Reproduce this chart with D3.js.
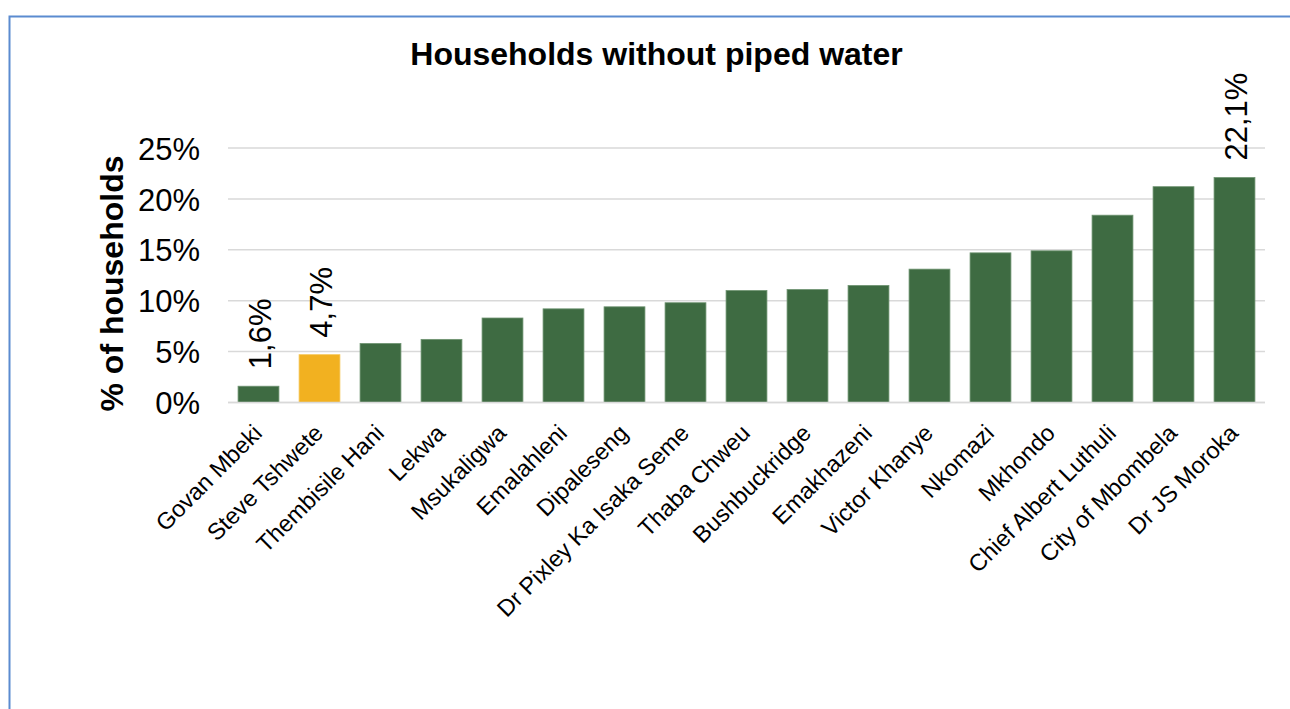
<!DOCTYPE html>
<html>
<head>
<meta charset="utf-8">
<script src="https://cdn.jsdelivr.net/npm/d3@7"></script>
<style>
  html, body { margin: 0; padding: 0; background: #fff; }
  svg { display: block; font-family: "Liberation Sans", Arial, sans-serif; }
</style>
</head>
<body>
<svg id="chart" width="1290" height="709"></svg>
<script>
// Share of households without piped water, by local municipality
const municipalities = [
  "Govan Mbeki", "Steve Tshwete", "Thembisile Hani", "Lekwa", "Msukaligwa",
  "Emalahleni", "Dipaleseng", "Dr Pixley Ka Isaka Seme", "Thaba Chweu",
  "Bushbuckridge", "Emakhazeni", "Victor Khanye", "Nkomazi", "Mkhondo",
  "Chief Albert Luthuli", "City of Mbombela", "Dr JS Moroka"
];
const shareWithoutPipedWater = [
  1.6, 4.7, 5.8, 6.2, 8.3, 9.2, 9.4, 9.8, 11.0, 11.1, 11.5, 13.1, 14.7, 14.9, 18.4, 21.2, 22.1
];
const highlighted = ["Steve Tshwete"];
const labelled = ["Govan Mbeki", "Steve Tshwete", "Dr JS Moroka"];
const yTicks = [0, 5, 10, 15, 20, 25];

const svg = d3.select("#chart");

// Frame around the chart
svg.append("rect")
  .attr("x", 9.5).attr("y", 16.5)
  .attr("width", 1300).attr("height", 720)
  .attr("fill", "none")
  .attr("stroke", "#5b8bd0")
  .attr("stroke-width", 2);

const x = d3.scaleBand()
  .domain(municipalities)
  .range([228, 1265])
  .paddingInner(0.33)
  .paddingOuter(0.165);

const y = d3.scaleLinear()
  .domain([0, 25])
  .range([402.5, 148]);

// Horizontal gridlines
svg.append("g")
  .selectAll("line")
  .data(yTicks)
  .join("line")
  .attr("x1", 228).attr("x2", 1265)
  .attr("y1", d => y(d)).attr("y2", d => y(d))
  .attr("stroke", "#d9d9d9")
  .attr("stroke-width", 1.5);

// Y axis labels
const yAxis = d3.axisLeft(y)
  .tickValues(yTicks)
  .tickFormat(d => d + "%")
  .tickSize(0)
  .tickPadding(0);
const yg = svg.append("g")
  .attr("transform", "translate(200,0)")
  .call(yAxis);
yg.select(".domain").remove();
yg.selectAll("text")
  .attr("font-family", "Liberation Sans, Arial, sans-serif")
  .attr("font-size", 31)
  .attr("fill", "#000")
  .attr("dy", "0.36em");

// Bars
const data = municipalities.map((m, i) => ({ name: m, value: shareWithoutPipedWater[i] }));
svg.append("g")
  .selectAll("rect")
  .data(data)
  .join("rect")
  .attr("x", d => x(d.name))
  .attr("y", d => y(d.value))
  .attr("width", x.bandwidth())
  .attr("height", d => y(0) - y(d.value))
  .attr("fill", d => highlighted.includes(d.name) ? "#f2b120" : "#3e6b42")
  .attr("stroke", d => highlighted.includes(d.name) ? "#f6c95e" : "#6f9472")
  .attr("stroke-width", 0.8);

// Value labels, rotated
svg.append("g")
  .selectAll("text")
  .data(data.filter(d => labelled.includes(d.name)))
  .join("text")
  .attr("transform", d => `translate(${x(d.name) + x.bandwidth() / 2 + 12},${y(d.value) - 17}) rotate(-90)`)
  .attr("text-anchor", "start")
  .attr("font-size", 31)
  .attr("fill", "#000")
  .text(d => d.value.toFixed(1).replace(".", ",") + "%");

// Category labels, slanted
const xAxis = d3.axisBottom(x).tickSize(0).tickPadding(0);
const xg = svg.append("g")
  .attr("transform", `translate(0,${y(0)})`)
  .call(xAxis);
xg.select(".domain").remove();
xg.selectAll("text")
  .attr("font-family", "Liberation Sans, Arial, sans-serif")
  .attr("font-size", 23.5)
  .attr("fill", "#000")
  .attr("text-anchor", "end")
  .attr("dy", 0)
  .attr("y", 0)
  .attr("transform", "translate(5,32) rotate(-45)");

// Baseline
svg.append("line")
  .attr("x1", 228).attr("x2", 1265)
  .attr("y1", y(0)).attr("y2", y(0))
  .attr("stroke", "#d9d9d9")
  .attr("stroke-width", 1.5);

// Title
svg.append("text")
  .attr("x", 656.5).attr("y", 65)
  .attr("text-anchor", "middle")
  .attr("font-size", 32)
  .attr("font-weight", "bold")
  .attr("fill", "#000")
  .text("Households without piped water");

// Y axis title
svg.append("text")
  .attr("transform", "translate(123,283.5) rotate(-90)")
  .attr("text-anchor", "middle")
  .attr("font-size", 32)
  .attr("font-weight", "bold")
  .attr("fill", "#000")
  .text("% of households");
</script>
</body>
</html>
